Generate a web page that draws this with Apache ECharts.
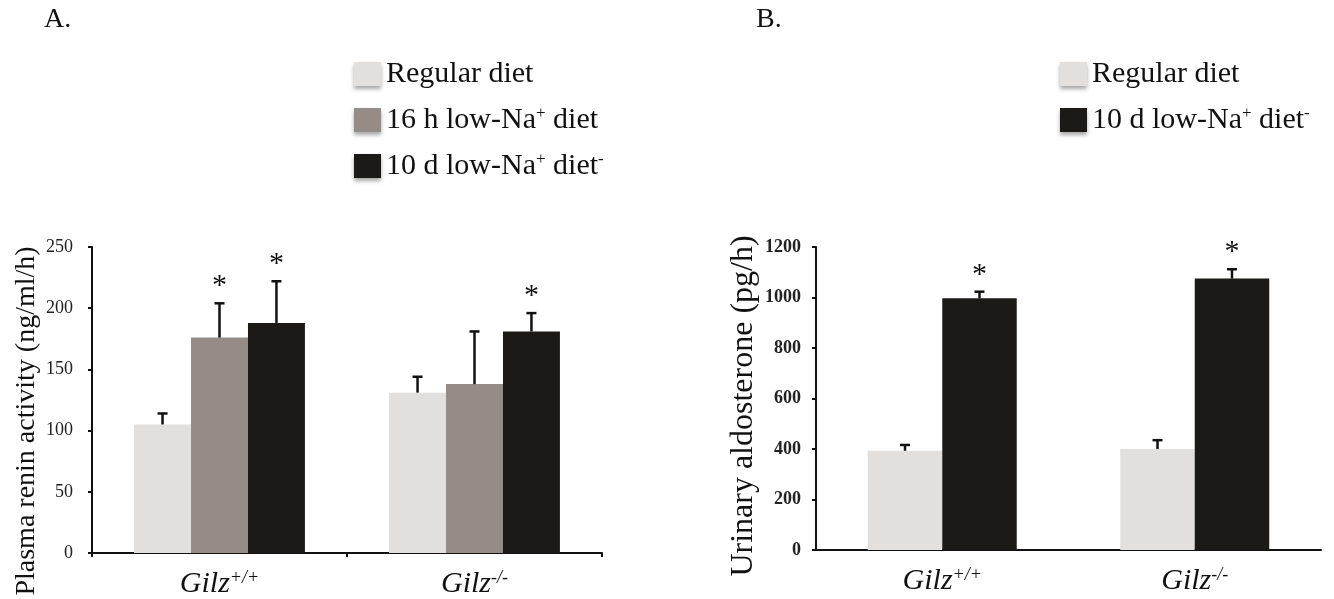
<!DOCTYPE html>
<html>
<head>
<meta charset="utf-8">
<script src="https://cdn.jsdelivr.net/npm/echarts@6/dist/echarts.min.js"></script>
<style>
    html, body { margin: 0; padding: 0; background: #fff; }
    #main { width: 1334px; height: 599px; }
</style>
</head>
<body>
<div id="main"></div>
<script>
    // categories (genotype)
    const categories = ['Gilz+/+', 'Gilz-/-']

    // panel A: plasma renin activity (ng/ml/h)
    const reninNames = ['Regular diet', '16 h low-Na+ diet', '10 d low-Na+ diet-']
    const reninRegular = [105, 131]
    const renin16h = [176, 138]
    const renin10d = [188, 181]
    const reninRegularErr = [9, 13]
    const renin16hErr = [28, 43]
    const renin10dErr = [34, 15]
    const renin16hSig = [1, 0]
    const renin10dSig = [1, 1]

    // panel B: urinary aldosterone (pg/h)
    const aldoNames = ['Regular diet', '10 d low-Na+ diet-']
    const aldoRegular = [393, 400]
    const aldo10d = [997, 1075]
    const aldoRegularErr = [23, 35]
    const aldo10dErr = [26, 37]
    const aldo10dSig = [1, 1]

    const colors = ['#e3dfdc', '#958c88', '#1b1a17']
    const serif = '"Liberation Serif", "DejaVu Serif", serif'

    const legendLabels = {
        'Regular diet': 'Regular diet',
        '16 h low-Na+ diet': '16 h low-Na{sup|+} diet',
        '10 d low-Na+ diet-': '10 d low-Na{sup|+} diet{sup|-}'
    }

    // rows for the error-bar series: [category, mean, err, sig, seriesIndex]
    function errRows (groups) {
        let rows = []
        groups.forEach((g, s) => {
            g.mean.forEach((m, c) => {
                rows.push([c, m, g.err[c], g.sig ? g.sig[c] : 0, s])
            })
        })
        return rows
    }

    function errorBars (nSeries, gap) {
        return function (params, api) {
            let c = api.value(0)
            let mean = api.value(1)
            let err = api.value(2)
            let sig = api.value(3)
            let s = api.value(4)
            let band = api.size([1, 0])[0]
            let groupW = band * (1 - gap)
            let barW = groupW / nSeries
            let off = -groupW / 2 + barW * (s + 0.5)
            let base = api.coord([c, mean])
            let top = api.coord([c, mean + err])
            let x = base[0] + off
            let children = [
                { type: 'line', shape: { x1: x, y1: base[1], x2: x, y2: top[1] }, style: { stroke: '#111', lineWidth: 2.5 } },
                { type: 'line', shape: { x1: x - 5, y1: top[1], x2: x + 5, y2: top[1] }, style: { stroke: '#111', lineWidth: 2.5 } }
            ]
            if (sig) {
                children.push({
                    type: 'text',
                    style: { text: '*', x: x, y: top[1] - 2, fill: '#111', font: '30px ' + serif, align: 'center', verticalAlign: 'bottom' }
                })
            }
            return { type: 'group', children: children }
        }
    }

    const axisLineStyle = { show: true, lineStyle: { color: '#111', width: 2 } }

    const xAxisLabel = {
        margin: 16,
        formatter: v => '{i|' + v.slice(0, 4) + '}{s|' + v.slice(4) + '}',
        rich: {
            i: { fontFamily: serif, fontStyle: 'italic', fontSize: 30, color: '#111', lineHeight: 30 },
            s: { fontFamily: serif, fontStyle: 'italic', fontSize: 18, color: '#111', verticalAlign: 'top', lineHeight: 18 }
        }
    }

    const legendBase = {
        orient: 'vertical',
        top: 54,
        itemWidth: 27,
        itemHeight: 24,
        itemGap: 16,
        icon: 'rect',
        itemStyle: { shadowBlur: 4, shadowOffsetY: 3, shadowColor: 'rgba(0,0,0,0.35)' },
        formatter: name => legendLabels[name],
        textStyle: {
            fontFamily: serif, fontSize: 30, lineHeight: 30, color: '#111',
            rich: { sup: { fontFamily: serif, fontSize: 17, color: '#111', verticalAlign: 'top', lineHeight: 17 } }
        }
    }

    const chart = echarts.init(document.getElementById('main'))
    let option = {
        animation: false,
        backgroundColor: '#fff',
        color: colors,
        grid: [
            { left: 92, top: 247, width: 510, height: 306 },
            { left: 816, top: 247, width: 505, height: 303 }
        ],
        legend: [
            Object.assign({}, legendBase, { data: reninNames, left: 349 }),
            Object.assign({}, legendBase, { data: aldoNames, left: 1055 })
        ],
        xAxis: [
            {
                type: 'category', gridIndex: 0, data: categories,
                axisLine: axisLineStyle,
                axisTick: { show: true, length: 4, lineStyle: { color: '#111', width: 2 } },
                axisLabel: xAxisLabel
            },
            {
                type: 'category', gridIndex: 1, data: categories,
                axisLine: axisLineStyle,
                axisTick: { show: false },
                axisLabel: xAxisLabel
            }
        ],
        yAxis: [
            {
                type: 'value', gridIndex: 0, min: 0, max: 250, interval: 50,
                axisLine: axisLineStyle,
                axisTick: { show: true, length: 4, lineStyle: { color: '#111', width: 2 } },
                splitLine: { show: false },
                axisLabel: { margin: 19, fontFamily: serif, fontSize: 18, color: '#222' }
            },
            {
                type: 'value', gridIndex: 1, min: 0, max: 1200, interval: 200,
                axisLine: axisLineStyle,
                axisTick: { show: true, length: 4, lineStyle: { color: '#111', width: 2 } },
                splitLine: { show: false },
                axisLabel: { margin: 15, fontFamily: serif, fontSize: 18, fontWeight: 'bold', color: '#222', formatter: v => String(v) }
            }
        ],
        graphic: [
            { type: 'text', left: 44, top: 6, style: { text: 'A.', font: '28px ' + serif, fill: '#111' } },
            { type: 'text', left: 756, top: 6, style: { text: 'B.', font: '28px ' + serif, fill: '#111' } },
            {
                type: 'text', x: 27, y: 421, rotation: Math.PI / 2,
                style: { text: 'Plasma renin activity (ng/ml/h)', font: '28px ' + serif, fill: '#111', align: 'center', verticalAlign: 'middle' }
            },
            {
                type: 'text', x: 744, y: 406, rotation: Math.PI / 2,
                style: { text: 'Urinary aldosterone (pg/h)', font: '32px ' + serif, fill: '#111', align: 'center', verticalAlign: 'middle' }
            }
        ],
        series: [
            { name: reninNames[0], type: 'bar', xAxisIndex: 0, yAxisIndex: 0, data: reninRegular, barGap: '0%', barCategoryGap: '33%', itemStyle: { color: colors[0] } },
            { name: reninNames[1], type: 'bar', xAxisIndex: 0, yAxisIndex: 0, data: renin16h, barGap: '0%', barCategoryGap: '33%', itemStyle: { color: colors[1] } },
            { name: reninNames[2], type: 'bar', xAxisIndex: 0, yAxisIndex: 0, data: renin10d, barGap: '0%', barCategoryGap: '33%', itemStyle: { color: colors[2] } },
            {
                type: 'custom', xAxisIndex: 0, yAxisIndex: 0, z: 5,
                renderItem: errorBars(3, 0.33),
                data: errRows([
                    { mean: reninRegular, err: reninRegularErr },
                    { mean: renin16h, err: renin16hErr, sig: renin16hSig },
                    { mean: renin10d, err: renin10dErr, sig: renin10dSig }
                ])
            },
            { name: aldoNames[0], type: 'bar', xAxisIndex: 1, yAxisIndex: 1, data: aldoRegular, barGap: '0%', barCategoryGap: '41%', itemStyle: { color: colors[0] } },
            { name: aldoNames[1], type: 'bar', xAxisIndex: 1, yAxisIndex: 1, data: aldo10d, barGap: '0%', barCategoryGap: '41%', itemStyle: { color: colors[2] } },
            {
                type: 'custom', xAxisIndex: 1, yAxisIndex: 1, z: 5,
                renderItem: errorBars(2, 0.41),
                data: errRows([
                    { mean: aldoRegular, err: aldoRegularErr },
                    { mean: aldo10d, err: aldo10dErr, sig: aldo10dSig }
                ])
            }
        ]
    }
    chart.setOption(option)
</script>
</body>
</html>
